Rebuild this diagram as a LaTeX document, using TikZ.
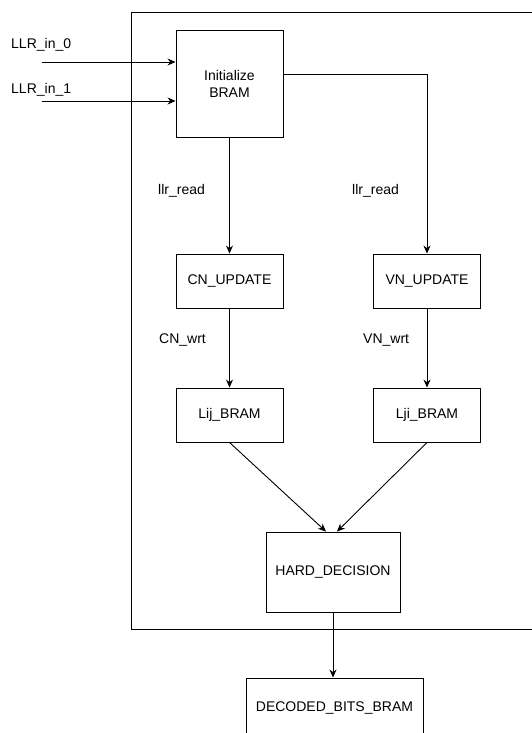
\documentclass[tikz,border=0pt]{standalone}
\usepackage{fontspec}
\setmainfont{Liberation Sans}
\usetikzlibrary{arrows.meta}

\begin{document}
\begin{tikzpicture}[x=1pt,y=-1pt,
    block/.style={draw, line width=0.9pt, minimum width=107pt, minimum height=54pt,
      inner sep=0pt, align=center, font=\fontsize{14}{17}\selectfont},
    lbl/.style={inner sep=0pt, anchor=west, font=\fontsize{14}{17}\selectfont},
    flow/.style={line width=0.9pt, -{Stealth[length=8pt,width=7pt]}}]
    \clip (0,0) rectangle (532,733);
    \fill[white] (0,0) rectangle (532,733);
    % decoder boundary
    \draw[line width=0.9pt] (131,12) rectangle (545,629);
    % blocks
    \node[block, minimum height=107pt] (init) at (229.5,83.5) {Initialize\\BRAM};
    \node[block] (cn) at (229.5,281) {CN\_UPDATE};
    \node[block] (vn) at (427,281) {VN\_UPDATE};
    \node[block] (lij) at (229.5,415) {Lij\_BRAM};
    \node[block] (lji) at (427,415) {Lji\_BRAM};
    \node[block, minimum width=134pt, minimum height=80pt] (hard) at (333,572) {HARD\_DECISION};
    \node[block, minimum width=177pt, minimum height=60pt] (dec) at (334.5,708) {DECODED\_BITS\_BRAM};
    % inputs
    \coordinate (in0) at (42,62);
    \coordinate (in1) at (42,101);
    \node[lbl] (llr0) at (11,45) {LLR\_in\_0};
    \node[lbl] (llr1) at (11,90) {LLR\_in\_1};
    \draw[flow] (in0) -- (in0 -| init.west);
    \draw[flow] (in1) -- (in1 -| init.west);
    % connectors
    \draw[flow] (init.south) -- (cn.north);
    \draw[flow] ([yshift=9.5pt]init.east) -| (vn.north);
    \draw[flow] (cn.south) -- (lij.north);
    \draw[flow] (vn.south) -- (lji.north);
    \draw[flow] (lij.south) -- ([xshift=-7pt]hard.north);
    \draw[flow] (lji.south) -- ([xshift=4pt]hard.north);
    \draw[flow] (hard.south) -- (hard.south |- dec.north);
    % labels
    \node[lbl] (rdcn) at (158,191) {llr\_read};
    \node[lbl] (rdvn) at (352,191) {llr\_read};
    \node[lbl] (wrcn) at (159,340) {CN\_wrt};
    \node[lbl] (wrvn) at (363,340) {VN\_wrt};
\end{tikzpicture}
\end{document}
